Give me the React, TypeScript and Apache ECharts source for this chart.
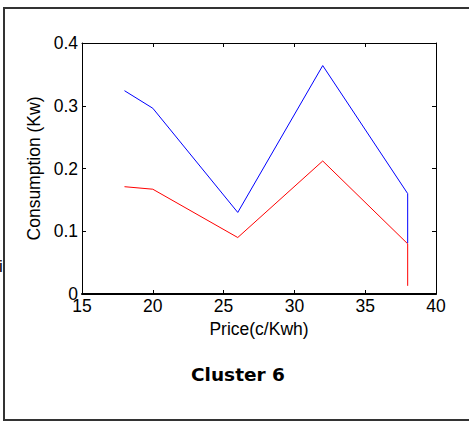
import React, { useEffect, useRef } from "react";
import * as echarts from "echarts";

const priceBlue: number[] = [18, 20, 26, 32, 38, 38];
const consumptionBlue: number[] = [0.324, 0.296, 0.13, 0.364, 0.16, 0.081];
const priceRed: number[] = [18, 20, 26, 32, 38, 38];
const consumptionRed: number[] = [0.171, 0.167, 0.09, 0.212, 0.08, 0.013];
const xTicks = { min: 15, max: 40, interval: 5 };
const yTicks = { min: 0, max: 0.4, interval: 0.1 };
const titleText = "Cluster 6";
const xName = "Price(c/Kwh)";
const yName = "Consumption (Kw)";

export default function App() {
  const ref = useRef<HTMLDivElement>(null);
  useEffect(() => {
    if (!ref.current) return;
    const chart = echarts.init(ref.current, null, { renderer: "svg" });
    const font = "'Liberation Sans', Arial, sans-serif";
    const tickStyle = { show: true, inside: true, length: 4, lineStyle: { color: "#000", width: 1 } };
    chart.setOption({
      animation: false,
      backgroundColor: "#fff",
      grid: { left: 82, top: 43, right: 33, bottom: 127, containLabel: false },
      xAxis: [
        {
          type: "value",
          position: "bottom",
          min: xTicks.min,
          max: xTicks.max,
          interval: xTicks.interval,
          name: xName,
          nameLocation: "middle",
          nameGap: 22,
          nameTextStyle: { fontFamily: font, fontSize: 17.5, color: "#000" },
          axisLine: { show: true, onZero: false, lineStyle: { color: "#000", width: 2 } },
          axisTick: tickStyle,
          axisLabel: { fontFamily: font, fontSize: 17.5, color: "#000", margin: 3 },
          splitLine: { show: false },
        },
        {
          type: "value",
          position: "top",
          min: xTicks.min,
          max: xTicks.max,
          interval: xTicks.interval,
          axisLine: { show: true, onZero: false, lineStyle: { color: "#000", width: 1 } },
          axisTick: tickStyle,
          axisLabel: { show: false },
          splitLine: { show: false },
        },
      ],
      yAxis: [
        {
          type: "value",
          position: "left",
          min: yTicks.min,
          max: yTicks.max,
          interval: yTicks.interval,
          name: yName,
          nameLocation: "middle",
          nameGap: 37,
          nameTextStyle: { fontFamily: font, fontSize: 17.5, color: "#000" },
          axisLine: { show: true, onZero: false, lineStyle: { color: "#000", width: 1 } },
          axisTick: tickStyle,
          axisLabel: {
            fontFamily: font,
            fontSize: 17.5,
            color: "#000",
            margin: 4,
            formatter: (v: number) => (v === 0 ? "0" : String(Math.round(v * 10) / 10)),
          },
          splitLine: { show: false },
        },
        {
          type: "value",
          position: "right",
          min: yTicks.min,
          max: yTicks.max,
          interval: yTicks.interval,
          axisLine: { show: true, onZero: false, lineStyle: { color: "#000", width: 1 } },
          axisTick: tickStyle,
          axisLabel: { show: false },
          splitLine: { show: false },
        },
      ],
      series: [
        {
          type: "line",
          data: priceBlue.map((x, i) => [x, consumptionBlue[i]]),
          showSymbol: false,
          symbol: "none",
          lineStyle: { color: "#0000ff", width: 1 },
          xAxisIndex: 0,
          yAxisIndex: 0,
        },
        {
          type: "line",
          data: priceRed.map((x, i) => [x, consumptionRed[i]]),
          showSymbol: false,
          symbol: "none",
          lineStyle: { color: "#ff0000", width: 1 },
          xAxisIndex: 0,
          yAxisIndex: 0,
        },
      ],
      graphic: [
        {
          type: "polyline",
          shape: { points: [[700, 8], [4, 8], [4, 420], [700, 420]] },
          style: { fill: "none", stroke: "#333", lineWidth: 2 },
          silent: true,
        },
        {
          type: "text",
          x: 238,
          y: 374,
          style: {
            text: titleText,
            fontFamily: "'DejaVu Sans', Verdana, sans-serif",
            fontWeight: "bold",
            fontSize: 18.5,
            fill: "#000",
            textAlign: "center",
            textVerticalAlign: "middle",
          },
        },
        {
          type: "text",
          x: -1,
          y: 258,
          style: { text: "i", fontFamily: font, fontSize: 17, fill: "#000" },
        },
      ],
    });
    return () => chart.dispose();
  }, []);
  return (
    <div
      ref={ref}
      style={{ position: "fixed", left: 0, top: 0, width: 469, height: 421 }}
    />
  );
}
